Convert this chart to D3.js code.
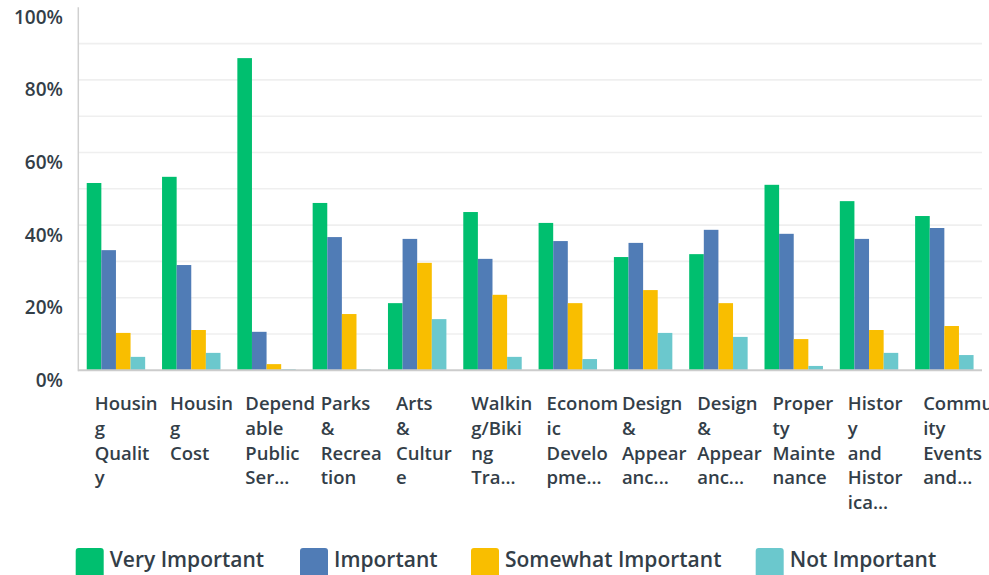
<!DOCTYPE html>
<html>
<head>
<meta charset="utf-8">
<script src="https://cdn.jsdelivr.net/npm/d3@7"></script>
<style>
  html, body { margin: 0; padding: 0; background: #fff; overflow: hidden; }
  svg { display: block; font-family: "Open Sans", sans-serif; }
</style>
</head>
<body>
<svg id="chart" width="989" height="575"></svg>
<script>
const categories = [
  "Housing Quality", "Housing Cost", "Dependable Public Services", "Parks & Recreation",
  "Arts & Culture", "Walking/Biking Trails", "Economic Development", "Design & Appearance 1",
  "Design & Appearance 2", "Property Maintenance", "History and Historical", "Community Events and"
];

// wrapped tick labels as shown under each group
const tickLines = [
  ["Housin", "g", "Qualit", "y"],
  ["Housin", "g", "Cost"],
  ["Depend", "able", "Public", "Ser..."],
  ["Parks", "&", "Recrea", "tion"],
  ["Arts", "&", "Cultur", "e"],
  ["Walkin", "g/Biki", "ng", "Tra..."],
  ["Econom", "ic", "Develo", "pme..."],
  ["Design", "&", "Appear", "anc..."],
  ["Design", "&", "Appear", "anc..."],
  ["Proper", "ty", "Mainte", "nance"],
  ["Histor", "y", "and", "Histor", "ica..."],
  ["Commun", "ity", "Events", "and..."]
];

const series = ["Very Important", "Important", "Somewhat Important", "Not Important"];
const colors = ["#00bf6f", "#507cb6", "#f9be00", "#6bc8cd"];

const veryImportant     = [51.6, 53.3, 86.0, 46.1, 18.5, 43.6, 40.6, 31.2, 32.0, 51.1, 46.6, 42.5];
const important         = [33.1, 29.0, 10.6, 36.7, 36.2, 30.7, 35.6, 35.1, 38.7, 37.6, 36.2, 39.2];
const somewhatImportant = [10.3, 11.1,  1.7, 15.5, 29.6, 20.8, 18.5, 22.1, 18.5,  8.6, 11.1, 12.2];
const notImportant      = [ 3.7,  4.8,  0.3,  0.2, 14.1,  3.7,  3.1, 10.3,  9.2,  1.2,  4.8,  4.2];

const values = [veryImportant, important, somewhatImportant, notImportant];
const yTicks = [0, 20, 40, 60, 80, 100];
const gridTicks = [10, 20, 30, 40, 50, 60, 70, 80, 90];

const svg = d3.select("#chart");
const plotLeft = 78.3, plotRight = 982, plotTop = 7.3, plotBottom = 370.3;
const textColor = "#333e48";

const x0 = d3.scaleBand().domain(d3.range(categories.length)).range([plotLeft, plotRight])
  .paddingInner(0.224).paddingOuter(0.112);
const x1 = d3.scaleBand().domain(d3.range(series.length)).range([0, x0.bandwidth()]);
const y = d3.scaleLinear().domain([0, 100]).range([plotBottom, plotTop]);

// gridlines
svg.append("g")
  .selectAll("line")
  .data(gridTicks)
  .join("line")
  .attr("x1", plotLeft).attr("x2", plotRight)
  .attr("y1", d => y(d)).attr("y2", d => y(d))
  .attr("stroke", "#efefef")
  .attr("stroke-width", 1.6);

// bars
const groups = svg.append("g")
  .selectAll("g")
  .data(categories)
  .join("g")
  .attr("transform", (d, i) => `translate(${x0(i)},0)`);

groups.selectAll("rect")
  .data((d, i) => values.map((s, k) => ({ k, v: s[i] })))
  .join("rect")
  .attr("x", d => x1(d.k))
  .attr("width", x1.bandwidth())
  .attr("y", d => y(d.v))
  .attr("height", d => y(0) - y(d.v))
  .attr("fill", d => colors[d.k]);

// axes lines
svg.append("line")
  .attr("x1", plotLeft).attr("x2", plotLeft)
  .attr("y1", plotTop).attr("y2", plotBottom + 1)
  .attr("stroke", "#d0d0d0").attr("stroke-width", 1.5);
svg.append("line")
  .attr("x1", plotLeft).attr("x2", plotRight)
  .attr("y1", plotBottom).attr("y2", plotBottom)
  .attr("stroke", "#cccccc").attr("stroke-width", 2);

// y labels
svg.append("g")
  .selectAll("text")
  .data(yTicks)
  .join("text")
  .attr("x", 63)
  .attr("y", d => y(d) + 9.5)
  .attr("text-anchor", "end")
  .attr("dominant-baseline", "central")
  .attr("font-size", 19)
  .attr("font-weight", 600)
  .attr("fill", textColor)
  .text(d => d + "%");

// x labels
const xl = svg.append("g")
  .selectAll("text")
  .data(tickLines)
  .join("text")
  .attr("x", (d, i) => x0(i) + 8)
  .attr("y", 410)
  .attr("font-size", 18.5)
  .attr("font-weight", 600)
  .attr("fill", textColor);

xl.selectAll("tspan")
  .data(d => d)
  .join("tspan")
  .attr("x", function () { return d3.select(this.parentNode).attr("x"); })
  .attr("dy", (d, i) => i === 0 ? 0 : 24.8)
  .text(d => d);

// legend
const legendX = [75.7, 300, 471, 755.7];
const legend = svg.append("g")
  .selectAll("g")
  .data(series)
  .join("g")
  .attr("transform", (d, i) => `translate(${legendX[i]},548)`);

legend.append("rect")
  .attr("width", 28).attr("height", 30)
  .attr("rx", 3)
  .attr("fill", (d, i) => colors[i]);

legend.append("text")
  .attr("x", 34)
  .attr("y", 19)
  .attr("font-size", 21)
  .attr("font-weight", 600)
  .attr("fill", textColor)
  .text(d => d);
</script>
</body>
</html>
